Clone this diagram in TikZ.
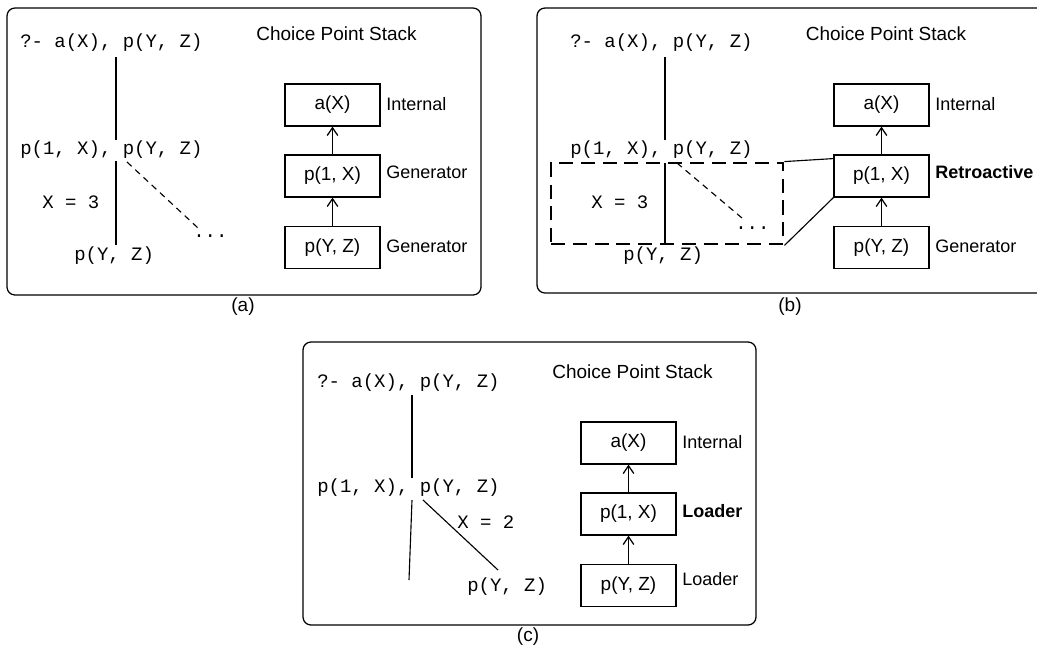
\documentclass[tikz,border=0pt]{standalone}
\usepackage{fontspec}
\usetikzlibrary{arrows.meta}
\setmainfont{Liberation Sans}
\setmonofont{Liberation Mono}
\newcommand{\figsize}{\fontsize{13.5}{16}\selectfont}
\newcommand{\kindsize}{\fontsize{12.8}{15}\selectfont}
\tikzset{
  panel/.style={draw, line width=0.9pt, rounded corners=0.2cm},
  stackbox/.style={draw, line width=0.9pt, minimum width=2.375cm, minimum height=1.05cm, inner sep=0pt},
  kind/.style={anchor=west, inner sep=0pt, font=\kindsize},
  goal/.style={anchor=west, inner sep=0pt, font=\figsize\ttfamily},
  edge/.style={line width=0.8pt},
  maybe/.style={line width=0.8pt, dash pattern=on 4.5pt off 3.5pt},
  push/.style={-{Straight Barb[length=5.5pt, width=7.5pt]}, line width=0.9pt},
  window/.style={draw, line width=2pt, dash pattern=on 10pt off 5.5pt},
}
\begin{document}
\begin{tikzpicture}[x=0.025cm, y=-0.025cm, font=\figsize]
\useasboundingbox (0,0) rectangle (1037,645);

% (a)
\draw[panel] (7,8) rectangle (481,295);
\node (a-cap) at (243,307) {(a)};
\node[goal] (a-q1) at (20,43) {?- a(X), p(Y, Z)};
\node[goal] (a-q2) at (20,150) {p(1, X), p(Y, Z)};
\node[goal] (a-q3) at (74,256) {p(Y, Z)};
\node[goal] (a-bind) at (42,202) {X = 3};
\node[goal] (a-more) at (193,236) {...};
\coordinate (a-t1) at (116,57);
\coordinate (a-t2) at (116,140);
\coordinate (a-t3) at (116,161);
\coordinate (a-t4) at (116,245);
\coordinate (a-t5) at (127,162);
\coordinate (a-t6) at (198,228);
\draw[edge] (a-t1) -- (a-t2);
\draw[edge] (a-t3) -- (a-t4);
\draw[maybe] (a-t5) -- (a-t6);
\node (a-title) at (336.5,34) {Choice Point Stack};
\node[stackbox] (a-ax) at (332.5,105) {a(X)};
\node[stackbox] (a-px) at (332.5,176) {p(1, X)};
\node[stackbox] (a-pyz) at (332.5,247.5) {p(Y, Z)};
\node[kind] (a-k1) at (386,104) {Internal};
\node[kind] (a-k2) at (386,172) {Generator};
\node[kind] (a-k3) at (386,246) {Generator};
\draw[push] (a-px) -- (a-ax);
\draw[push] (a-pyz) -- (a-px);

% (b)
\begin{scope}
\clip (0,0) rectangle (1037,645);
\draw[panel] (537,8) rectangle (1060,293);
\end{scope}
\node (b-cap) at (790,307) {(b)};
\node[goal] (b-q1) at (570,43) {?- a(X), p(Y, Z)};
\node[goal] (b-q2) at (570,150) {p(1, X), p(Y, Z)};
\node[goal] (b-q3) at (623,256) {p(Y, Z)};
\node[goal] (b-bind) at (591,202) {X = 3};
\node[goal] (b-more) at (735,228) {...};
\node[window, minimum width=5.8cm, minimum height=2.025cm] (b-win) at (667,203.5) {};
\coordinate (b-t1) at (665,57);
\coordinate (b-t2) at (665,140);
\coordinate (b-t3) at (665,163);
\coordinate (b-t4) at (665,244);
\coordinate (b-t5) at (677,163);
\coordinate (b-t6) at (742,218);
\draw[edge] (b-t1) -- (b-t2);
\draw[edge] (b-t3) -- (b-t4);
\draw[maybe] (b-t5) -- (b-t6);
\node (b-title) at (886,34) {Choice Point Stack};
\node[stackbox] (b-ax) at (881.5,105) {a(X)};
\node[stackbox] (b-px) at (881.5,176) {p(1, X)};
\node[stackbox] (b-pyz) at (881.5,247.5) {p(Y, Z)};
\node[kind] (b-k1) at (935,104) {Internal};
\node[kind, font=\kindsize\bfseries] (b-k2) at (935,172) {Retroactive};
\node[kind] (b-k3) at (935,246) {Generator};
\draw[push] (b-px) -- (b-ax);
\draw[push] (b-pyz) -- (b-px);
\draw[edge] (b-win.north east) -- ([yshift=-3]b-px.north west);
\draw[edge] (b-win.south east) -- (b-px.south west);

% (c)
\draw[panel] (303,342) rectangle (756,625);
\node (c-cap) at (528,637) {(c)};
\node[goal] (c-q1) at (317,383) {?- a(X), p(Y, Z)};
\node[goal] (c-q2) at (317,488) {p(1, X), p(Y, Z)};
\node[goal] (c-q3) at (467,587) {p(Y, Z)};
\node[goal] (c-bind) at (457,522) {X = 2};
\coordinate (c-t1) at (412,395);
\coordinate (c-t2) at (412,478);
\coordinate (c-t3) at (412,500);
\coordinate (c-t4) at (409,580);
\coordinate (c-t5) at (423,500);
\coordinate (c-t6) at (498,570);
\draw[edge] (c-t1) -- (c-t2);
\draw[edge] (c-t3) -- (c-t4);
\draw[edge] (c-t5) -- (c-t6);
\node (c-title) at (632.5,372) {Choice Point Stack};
\node[stackbox] (c-ax) at (628.5,443) {a(X)};
\node[stackbox] (c-px) at (628.5,514) {p(1, X)};
\node[stackbox] (c-pyz) at (628.5,585.5) {p(Y, Z)};
\node[kind] (c-k1) at (682,442) {Internal};
\node[kind, font=\kindsize\bfseries] (c-k2) at (682,511) {Loader};
\node[kind] (c-k3) at (682,579) {Loader};
\draw[push] (c-px) -- (c-ax);
\draw[push] (c-pyz) -- (c-px);
\end{tikzpicture}
\end{document}
